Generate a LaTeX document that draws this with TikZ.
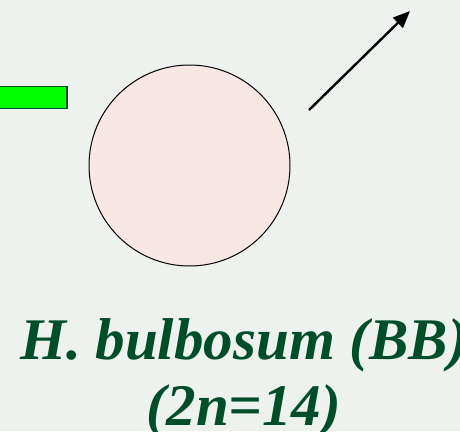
\documentclass[tikz,border=0pt]{standalone}
\usepackage{fontspec}
\setmainfont{Liberation Serif}
\usetikzlibrary{arrows.meta,positioning}
\definecolor{bgcol}{RGB}{238,242,238}
\definecolor{cellpink}{RGB}{246,231,228}
\definecolor{darkgreen}{RGB}{0,77,42}
\definecolor{brightgreen}{RGB}{0,255,0}
\tikzset{
	cell/.style   = {circle,draw=black,line width=1pt,fill=cellpink,
		minimum size=201pt,inner sep=0pt},
	chrom/.style  = {rectangle,draw=darkgreen,line width=1.2pt,fill=brightgreen,
		minimum width=68pt,minimum height=22pt,inner sep=0pt},
	label/.style  = {align=center,text=darkgreen,inner sep=0pt,
		font=\fontsize{59}{66}\selectfont\bfseries\itshape},
	arr/.style    = {-{Triangle[length=17pt,width=14pt]},line width=2.4pt,black},
}
\begin{document}
\begin{tikzpicture}[x=1pt,y=-1pt]
	\fill[bgcol] (0,0) rectangle (460,431);
	\useasboundingbox (0,0) rectangle (460,431);
	
	\node (chr) [chrom] at (33,97.5) {};
	\node (bb) [cell] at (189.5,165.5) {};
	\coordinate (a0) at (309,110);
	\coordinate (a1) at (410,11);
	\draw[arr] (a0) -- (a1);
	
	\node (name) [label,anchor=base] at (244,425) {H. bulbosum (BB)\\(2n=14)};
\end{tikzpicture}
\end{document}
